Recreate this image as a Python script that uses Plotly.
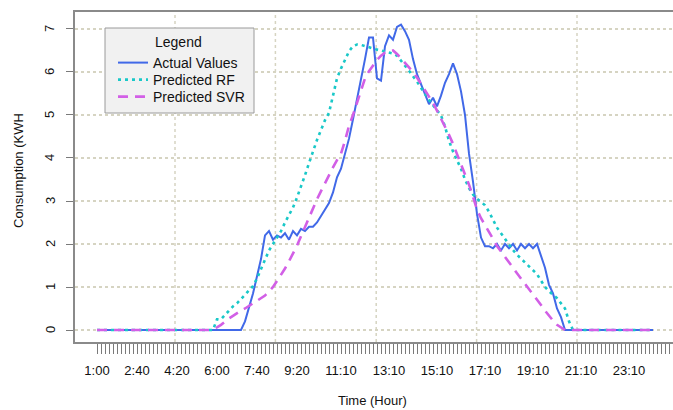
import plotly.graph_objects as go

# ---- data -------------------------------------------------------------
# 10-minute time steps starting at 1:00
times = [f"{((60 + 10 * k) // 60) % 24}:{(10 * k) % 60:02d}" for k in range(144)]

shown_labels = ["1:00", "2:40", "4:20", "6:00", "7:40", "9:20", "11:10",
                "13:10", "15:10", "17:10", "19:10", "21:10", "23:10"]

actual_values = [
    0, 0, 0, 0, 0, 0, 0, 0, 0, 0,
    0, 0, 0, 0, 0, 0, 0, 0, 0, 0,
    0, 0, 0, 0, 0, 0, 0, 0, 0, 0,
    0, 0, 0, 0, 0, 0, 0, 0.2, 0.5, 0.85,
    1.25, 1.65, 2.2, 2.3, 2.1, 2.2, 2.15, 2.25, 2.1, 2.3,
    2.2, 2.35, 2.3, 2.4, 2.4, 2.5, 2.65, 2.8, 2.95, 3.2,
    3.55, 3.75, 4.1, 4.45, 4.9, 5.35, 5.85, 6.3, 6.8, 6.8,
    5.85, 5.8, 6.6, 6.85, 6.75, 7.05, 7.1, 6.95, 6.75, 6.3,
    5.95, 5.7, 5.45, 5.25, 5.4, 5.2, 5.45, 5.75, 5.95, 6.2,
    5.95, 5.55, 5.0, 4.1, 3.45, 2.7, 2.15, 1.95, 1.95, 1.9,
    2.0, 1.85, 2.0, 1.9, 2.0, 1.85, 2.0, 1.9, 2.0, 1.9,
    2.0, 1.75, 1.45, 1.05, 0.85, 0.5, 0.3, 0, 0, 0,
    0, 0, 0, 0, 0, 0, 0, 0, 0, 0,
    0, 0, 0, 0, 0, 0, 0, 0, 0, 0,
]

predicted_rf = [
    0, 0, 0, 0, 0, 0, 0, 0, 0, 0,
    0, 0, 0, 0, 0, 0, 0, 0, 0, 0,
    0, 0, 0, 0, 0, 0, 0, 0, 0, 0,
    0.25, 0.25, 0.35, 0.45, 0.55, 0.62, 0.72, 0.8, 0.9, 1.02,
    1.2, 1.42, 1.62, 1.85, 2.0, 2.15, 2.3, 2.5, 2.68, 2.85,
    3.08, 3.32, 3.6, 3.88, 4.17, 4.42, 4.65, 4.88, 5.05, 5.45,
    5.85, 6.08, 6.3, 6.48, 6.6, 6.64, 6.63, 6.6, 6.57, 6.55,
    6.52, 6.5, 6.48, 6.46, 6.43, 6.38, 6.27, 6.15, 6.03, 5.9,
    5.78, 5.63, 5.48, 5.35, 5.23, 5.12, 4.99, 4.73, 4.4, 4.15,
    3.95, 3.75, 3.5, 3.3, 3.15, 3.05, 2.98, 2.9, 2.75, 2.55,
    2.38, 2.25, 2.12, 1.98, 1.86, 1.75, 1.65, 1.57, 1.48, 1.38,
    1.3, 1.15, 1.0, 0.9, 0.82, 0.74, 0.62, 0.5, 0.2, 0,
    0, 0, 0, 0, 0, 0, 0, 0, 0, 0,
    0, 0, 0, 0, 0, 0, 0, 0, 0, 0,
]

predicted_svr = [
    0, 0, 0, 0, 0, 0, 0, 0, 0, 0,
    0, 0, 0, 0, 0, 0, 0, 0, 0, 0,
    0, 0, 0, 0, 0, 0, 0, 0, 0, 0.03,
    0.06, 0.12, 0.2, 0.27, 0.33, 0.4, 0.45, 0.5, 0.56, 0.62,
    0.68, 0.73, 0.8, 0.9, 1.0, 1.14, 1.28, 1.43, 1.6, 1.78,
    1.96, 2.18, 2.4, 2.62, 2.84, 3.04, 3.23, 3.42, 3.6, 3.78,
    3.95, 4.1, 4.4, 4.75, 5.0, 5.3, 5.6, 5.85, 6.02, 6.15,
    6.28, 6.38, 6.45, 6.48, 6.5, 6.42, 6.32, 6.22, 6.1, 6.0,
    5.87, 5.72, 5.57, 5.45, 5.28, 5.1, 4.92, 4.73, 4.54, 4.33,
    4.1, 3.85, 3.62, 3.38, 3.1, 2.8, 2.6, 2.45, 2.3, 2.12,
    1.95, 1.83, 1.7, 1.58, 1.45, 1.32, 1.2, 1.08, 0.95, 0.82,
    0.7, 0.58, 0.45, 0.33, 0.22, 0.12, 0.05, 0, 0, 0,
    0, 0, 0, 0, 0, 0, 0, 0, 0, 0,
    0, 0, 0, 0, 0, 0, 0, 0, 0, 0,
]

y_ticks = [0, 1, 2, 3, 4, 5, 6, 7]

# ---- figure -----------------------------------------------------------
FONT = "Liberation Sans, Arial, sans-serif"
GRID = "#d6d4c2"
AXIS = "#8a8a8a"
TXT = "#111111"

# plot area in pixels
PL, PR, PT, PB = 75, 673, 12, 342
PW, PH = PR - PL, PB - PT


def px_x(px):
    return (px - PL) / PW


def px_y(py):
    return (PB - py) / PH


n = len(actual_values)
fig = go.Figure()
fig.add_trace(go.Scatter(x=times[:n], y=actual_values, mode="lines",
                         name="Actual Values", legend="legend",
                         line=dict(color="#4169e8", width=2)))
fig.add_trace(go.Scatter(x=times[:n], y=predicted_rf, mode="lines",
                         name="Predicted RF", legend="legend2",
                         line=dict(color="#19c8c8", width=2.6, dash="3px,4px")))
fig.add_trace(go.Scatter(x=times[:n], y=predicted_svr, mode="lines",
                         name="Predicted SVR", legend="legend3",
                         line=dict(color="#d25fe6", width=2.6, dash="10px,7px")))

# vertical dotted grid lines
for gx in [19.5, 44.6, 69.8, 94.9, 120.0]:
    fig.add_shape(type="line", xref="x", yref="paper", x0=gx, x1=gx, y0=0, y1=1,
                  line=dict(color=GRID, width=1.5, dash="dot"), layer="below")

# legend frame
fig.add_shape(type="rect", xref="paper", yref="paper",
              x0=px_x(105), x1=px_x(254), y0=px_y(113), y1=px_y(28),
              fillcolor="#f1f1f1", line=dict(color="#9a9a9a", width=1),
              layer="above")


def leg(row_y):
    return dict(x=px_x(113), y=px_y(row_y), xanchor="left", yanchor="middle",
                bgcolor="rgba(0,0,0,0)", borderwidth=0,
                font=dict(size=14, color=TXT, family=FONT))


ticktext = [t if t in shown_labels else "" for t in times]

annotations = [
    dict(text="Legend", xref="paper", yref="paper",
         x=px_x(178), y=px_y(42), xanchor="center", yanchor="middle",
         showarrow=False, font=dict(size=14, color=TXT)),
    dict(text="Time (Hour)", xref="paper", yref="paper",
         x=px_x(372), y=px_y(400),
         xanchor="center", yanchor="middle", showarrow=False,
         font=dict(size=13, color=TXT)),
    dict(text="Consumption (KWH", xref="paper", yref="paper",
         x=px_x(18), y=px_y(171),
         xanchor="center", yanchor="middle", showarrow=False, textangle=-90,
         font=dict(size=13, color=TXT)),
]
# rotated y tick labels (R style)
for v in y_ticks:
    annotations.append(dict(text=str(v), xref="paper", yref="y",
                            x=px_x(50), y=v, xanchor="center", yanchor="middle",
                            showarrow=False, textangle=-90,
                            font=dict(size=13, color=TXT)))

fig.update_layout(
    width=673, height=410,
    margin=dict(l=PL, r=0, t=PT, b=410 - PB),
    paper_bgcolor="white", plot_bgcolor="white",
    font=dict(family=FONT, size=13, color=TXT),
    showlegend=True,
    legend=leg(63),
    legend2=leg(80),
    legend3=leg(97),
    xaxis=dict(
        type="category", categoryorder="array", categoryarray=times,
        range=[-5.5, 144],
        tickmode="array", tickvals=times, ticktext=ticktext, tickangle=0,
        ticks="outside", ticklen=10, tickwidth=1, tickcolor="#7a7a7a",
        ticklabelstandoff=6,
        tickfont=dict(size=13, color=TXT),
        showgrid=False, zeroline=False,
        showline=True, mirror=True, linecolor=AXIS, linewidth=1.5,
    ),
    yaxis=dict(
        range=[-0.279, 7.395],
        tickmode="array", tickvals=y_ticks, showticklabels=False,
        ticks="outside", ticklen=7, tickwidth=1, tickcolor="#7a7a7a",
        showgrid=True, gridcolor=GRID, griddash="dot", gridwidth=1.5,
        zeroline=False,
        showline=True, mirror=False, linecolor=AXIS, linewidth=1.5,
    ),
    annotations=annotations,
)

fig.write_html("out.html")
